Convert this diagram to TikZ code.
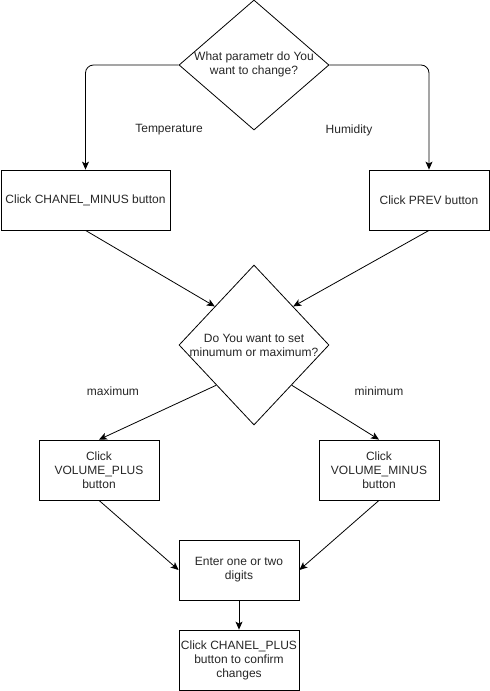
\documentclass[tikz,border=0pt]{standalone}
\usepackage{fontspec}
\setmainfont{Liberation Sans}
\usetikzlibrary{shapes.geometric,arrows.meta,calc}
\begin{document}
\begin{tikzpicture}[x=1pt,y=-1pt,
 box/.style={draw, line width=0.8pt, minimum height=60pt, inner sep=0pt, align=center, font=\fontsize{12}{14}\selectfont, text=black!85},
 dec/.style={draw, diamond, line width=0.8pt, inner sep=0pt, minimum width=150pt},
 txt/.style={align=center, font=\fontsize{12}{14}\selectfont, inner sep=0pt, text=black!85},
 arr/.style={-{Stealth[length=8pt,width=7pt,inset=2pt]}, line width=0.8pt}]
\useasboundingbox (0,0) rectangle (490,691);
% decisions
\node[dec, minimum height=130pt] (d1) at (254,65) {};
\node[txt] (t1) at (254,64) {What parametr do You\\want to change?};
\node[dec, minimum height=160pt] (d2) at (254,345) {};
\node[txt] (t2) at (254,345) {Do You want to set\\minumum or maximum?};
% boxes
\node[box, minimum width=169pt] (b1) at (85.5,200) {Click CHANEL\_MINUS button};
\node[box, minimum width=120pt] (b2) at (429,200) {Click PREV button};
\node[box, minimum width=120pt] (b3) at (99,470) {Click\\VOLUME\_PLUS\\button};
\node[box, minimum width=120pt] (b4) at (379,470) {Click\\VOLUME\_MINUS\\button};
\node[box, minimum width=120pt] (b5) at (239,570) {Enter one or two\\digits};
\node[box, minimum width=120pt] (b6) at (239,660) {Click CHANEL\_PLUS\\button to confirm\\changes};
% labels
\node[txt] (l1) at (169,130) {Temperature};
\node[txt] (l2) at (349,130) {Humidity};
\node[txt] (l3) at (113,391) {maximum};
\node[txt] (l4) at (379,391) {minimum};
% connectors
\draw[arr, rounded corners=8pt] (d1.west) -| (b1.north);
\draw[arr, rounded corners=8pt] (d1.east) -| (b2.north);
\draw[arr] (b1.south) -- ($(d2.west)!0.48!(d2.north)$);
\draw[arr] (b2.south) -- ($(d2.east)!0.48!(d2.north)$);
\draw[arr] ($(d2.west)!0.5!(d2.south)$) -- (b3.north);
\draw[arr] ($(d2.east)!0.5!(d2.south)$) -- (b4.north);
\draw[arr] (b3.south) -- (b5.west);
\draw[arr] (b4.south) -- (b5.east);
\draw[arr] (b5.south) -- (b6.north);
\end{tikzpicture}
\end{document}
